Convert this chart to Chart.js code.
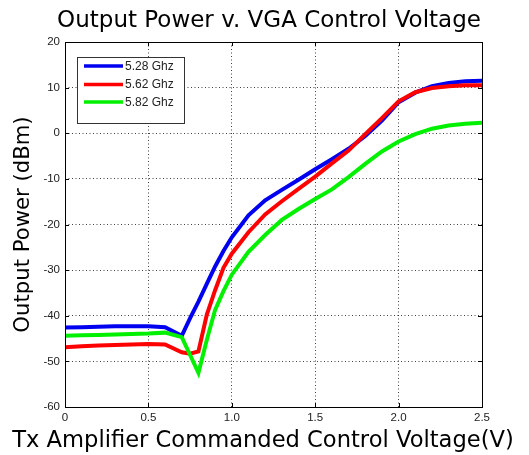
<!DOCTYPE html>
<html>
<head>
<meta charset="utf-8">
<script src="https://cdn.jsdelivr.net/npm/chart.js@4/dist/chart.umd.min.js"></script>
<style>
html,body{margin:0;padding:0;background:#fff;}
#wrap{width:529px;height:455px;}
</style>
</head>
<body>
<div id="wrap"><canvas id="c" width="529" height="455"></canvas></div>
<script>
const voltage = [0,0.1,0.2,0.3,0.4,0.5,0.6,0.7,0.75,0.8,0.85,0.9,0.95,1.0,1.1,1.2,1.3,1.4,1.5,1.6,1.7,1.8,1.9,2.0,2.1,2.2,2.3,2.4,2.5];
const seriesLabels = ['5.28 Ghz','5.62 Ghz','5.82 Ghz'];
const power528 = [-42.6,-42.5,-42.4,-42.3,-42.3,-42.3,-42.5,-44.4,-40.5,-36.9,-33.0,-29.2,-25.8,-22.8,-18.0,-14.7,-12.4,-10.2,-7.9,-5.7,-3.4,-0.6,2.8,6.8,8.9,10.3,11.0,11.4,11.5];
const power562 = [-46.9,-46.7,-46.5,-46.4,-46.3,-46.2,-46.3,-48.0,-48.3,-47.8,-39.8,-34.4,-29.5,-26.4,-21.7,-17.8,-14.9,-12.2,-9.5,-6.6,-3.8,-0.2,3.3,7.0,9.0,9.9,10.3,10.5,10.5];
const power582 = [-44.4,-44.3,-44.2,-44.1,-44.0,-43.9,-43.7,-44.7,-48.6,-52.5,-45.3,-38.7,-34.6,-31.0,-26.0,-22.3,-19.0,-16.6,-14.4,-12.3,-9.6,-6.7,-4.0,-1.8,-0.2,1.0,1.7,2.1,2.3];
const xTicks = [0,0.5,1,1.5,2,2.5];
const yTicks = [-60,-50,-40,-30,-20,-10,0,10,20];
const xTitle = 'Tx Amplifier Commanded Control Voltage(V)';

const toXY = arr => voltage.map((v,i)=>({x:v,y:arr[i]}));

const boxPlugin = {
  id:'boxPlugin',
  afterDraw(chart){
    const {ctx, chartArea:a, scales} = chart;
    ctx.save();
    // axes box
    ctx.strokeStyle = '#000';
    ctx.lineWidth = 1;
    ctx.setLineDash([]);
    ctx.strokeRect(Math.round(a.left)+0.5, Math.round(a.top)+0.5, Math.round(a.right-a.left), Math.round(a.bottom-a.top));
    // inward tick marks
    const L = 4;
    ctx.beginPath();
    xTicks.forEach(v=>{
      const px = Math.round(scales.x.getPixelForValue(v))+0.5;
      ctx.moveTo(px, a.bottom); ctx.lineTo(px, a.bottom-L);
      ctx.moveTo(px, a.top); ctx.lineTo(px, a.top+L);
    });
    yTicks.forEach(v=>{
      const py = Math.round(scales.y.getPixelForValue(v))+0.5;
      ctx.moveTo(a.left, py); ctx.lineTo(a.left+L, py);
      ctx.moveTo(a.right, py); ctx.lineTo(a.right-L, py);
    });
    ctx.stroke();
    // x axis title (wider than the axis, so drawn here)
    ctx.fillStyle = '#000';
    ctx.font = '22.6px "DejaVu Sans", sans-serif';
    ctx.textAlign = 'center';
    ctx.textBaseline = 'alphabetic';
    ctx.fillText(xTitle, 263, 447);
    // legend
    const lx = 77.5, ly = 57.5, lw = 107, lh = 66;
    ctx.fillStyle = '#fff';
    ctx.fillRect(lx, ly, lw, lh);
    ctx.lineWidth = 1;
    ctx.strokeStyle = '#333';
    ctx.strokeRect(lx, ly, lw, lh);
    const rows = [66, 84.5, 102];
    chart.data.datasets.forEach((ds,i)=>{
      ctx.strokeStyle = ds.borderColor;
      ctx.lineWidth = 3.5;
      ctx.beginPath();
      ctx.moveTo(84, rows[i]); ctx.lineTo(123, rows[i]);
      ctx.stroke();
      ctx.fillStyle = '#222';
      ctx.font = '12px "Liberation Sans", Arial, sans-serif';
      ctx.textBaseline = 'middle';
      ctx.textAlign = 'left';
      ctx.fillText(ds.label, 125, rows[i]+0.5);
    });
    ctx.restore();
  }
};

new Chart(document.getElementById('c'), {
  type:'line',
  data:{
    datasets:[
      {label:seriesLabels[0], data:toXY(power528), borderColor:'#0000f0', borderWidth:4, pointRadius:0, tension:0, order:3, fill:false},
      {label:seriesLabels[1], data:toXY(power562), borderColor:'#ff0000', borderWidth:4, pointRadius:0, tension:0, order:2, fill:false},
      {label:seriesLabels[2], data:toXY(power582), borderColor:'#00f000', borderWidth:4, pointRadius:0, tension:0, order:1, fill:false}
    ]
  },
  options:{
    responsive:false,
    animation:false,
    layout:{padding:{left:9,top:0,right:0,bottom:0}},
    plugins:{
      legend:{display:false},
      tooltip:{enabled:false},
      title:{
        display:true,
        text:'Output Power v. VGA Control Voltage',
        color:'#000',
        font:{family:'"DejaVu Sans", sans-serif', size:23, weight:'normal'},
        padding:{top:7.5,bottom:6.9}
      }
    },
    scales:{
      x:{
        type:'linear', min:0, max:2.5,
        afterBuildTicks(s){ s.ticks = xTicks.map(v=>({value:v})); },
        afterFit(s){ s.height = 48; },
        ticks:{color:'#222', font:{family:'"Liberation Sans", Arial, sans-serif', size:11.5}, padding:4, maxRotation:0, autoSkip:false},
        grid:{color:'rgba(0,0,0,0.75)', lineWidth:1, drawTicks:false},
        border:{display:false, dash:[1,2.5]},
        title:{display:false, text:xTitle}
      },
      y:{
        type:'linear', min:-60, max:20,
        afterBuildTicks(s){ s.ticks = yTicks.map(v=>({value:v})); },
        afterFit(s){ s.width = 56; },
        ticks:{color:'#222', font:{family:'"Liberation Sans", Arial, sans-serif', size:11.5}, padding:5, autoSkip:false},
        grid:{color:'rgba(0,0,0,0.75)', lineWidth:1, drawTicks:false},
        border:{display:false, dash:[1,2.5]},
        title:{display:true, text:'Output Power (dBm)', color:'#000',
          font:{family:'"DejaVu Sans", sans-serif', size:21.2, weight:'normal'}, padding:{top:2,bottom:0}}
      },
      yR:{
        type:'linear', position:'right', display:true,
        afterFit(s){ s.width = 47; },
        ticks:{display:false},
        grid:{display:false, drawTicks:false},
        border:{display:false}
      }
    }
  },
  plugins:[boxPlugin]
});
</script>
</body>
</html>
